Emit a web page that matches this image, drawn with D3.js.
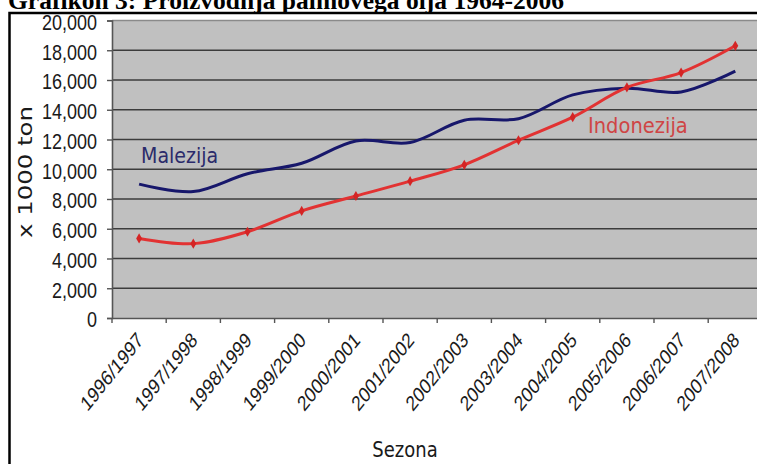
<!DOCTYPE html>
<html>
<head>
<meta charset="utf-8">
<script src="https://cdn.jsdelivr.net/npm/d3@7"></script>
<style>
  html, body { margin: 0; padding: 0; background: #ffffff; overflow: hidden; }
  svg { display: block; }
</style>
</head>
<body>
<svg id="chart" width="757" height="464"></svg>
<script>
// ---- data ----
const title = "Grafikon 3: Proizvodnja palmovega olja 1964-2006";
const seasons = ["1996/1997","1997/1998","1998/1999","1999/2000","2000/2001","2001/2002",
                 "2002/2003","2003/2004","2004/2005","2005/2006","2006/2007","2007/2008"];
const malezija   = [9000, 8500, 9700, 10400, 11900, 11800, 13300, 13400, 15000, 15450, 15200, 16600];
const indonezija = [5350, 5000, 5800, 7200, 8200, 9200, 10300, 11950, 13500, 15500, 16500, 18300];
const yTicks = [0, 2000, 4000, 6000, 8000, 10000, 12000, 14000, 16000, 18000, 20000];
const yTitle = "x 1000 ton";
const xTitle = "Sezona";
const seriesNames = ["Malezija", "Indonezija"];

// ---- layout ----
const svg = d3.select("#chart");
const sy = 1.22; // vertical stretch of the original picture
const pLeft = 112, pTop = 20.5, pBottom = 318, bandW = 54.2;
const x = d3.scaleBand().domain(seasons).range([pLeft, pLeft + bandW * seasons.length]).paddingInner(0).paddingOuter(0);
const y = d3.scaleLinear().domain([0, 20000]).range([pBottom, pTop]);
const cx = d => x(d) + x.bandwidth() / 2;

// title
svg.append("text")
  .attr("x", 8).attr("y", 9)
  .attr("font-family", "Liberation Serif, Times New Roman, serif")
  .attr("font-weight", "bold")
  .attr("font-size", 25)
  .attr("textLength", 556)
  .attr("lengthAdjust", "spacingAndGlyphs")
  .attr("fill", "#000")
  .text(title);

// frame
svg.append("path")
  .attr("d", `M9.5,470 V13 H770`)
  .attr("fill", "none").attr("stroke", "#000").attr("stroke-width", 2.5);

// plot background
svg.append("rect")
  .attr("x", pLeft).attr("y", pTop)
  .attr("width", x.range()[1] - pLeft).attr("height", pBottom - pTop)
  .attr("fill", "#c0c0c0");

// gridlines
svg.append("g").selectAll("line").data(yTicks.filter(v => v > 0)).join("line")
  .attr("x1", pLeft).attr("x2", x.range()[1])
  .attr("y1", d => y(d)).attr("y2", d => y(d))
  .attr("stroke", d => d === 20000 ? "#8a8a8a" : "#3c3c3c")
  .attr("stroke-width", 1.6);

// y axis
const yAxis = svg.append("g").attr("transform", `translate(${pLeft},0)`)
  .call(d3.axisLeft(y).tickValues(yTicks).tickSize(5).tickFormat(d3.format(",")));
yAxis.select(".domain").attr("stroke", "#555").attr("stroke-width", 1.6);
yAxis.selectAll(".tick line").attr("stroke", "#555").attr("stroke-width", 1.4);
yAxis.selectAll(".tick text").remove();
yAxis.selectAll(".tick").append("text")
  .attr("transform", `translate(-15,1) scale(1,${sy})`)
  .attr("dy", "0.36em")
  .attr("text-anchor", "end")
  .attr("font-family", "Liberation Sans, Arial, sans-serif")
  .attr("font-size", 18)
  .attr("fill", "#1a1a1a")
  .text(d => d3.format(",")(d));

// x axis
const xAxis = svg.append("g").attr("transform", `translate(0,${pBottom})`)
  .call(d3.axisBottom(x).tickSize(0).tickFormat(""));
xAxis.select(".domain").attr("stroke", "#555").attr("stroke-width", 1.6);
svg.append("g").selectAll("line").data(seasons).join("line")
  .attr("x1", d => x(d)).attr("x2", d => x(d))
  .attr("y1", pBottom).attr("y2", pBottom + 5)
  .attr("stroke", "#555").attr("stroke-width", 1.4);
svg.append("g").selectAll("text").data(seasons).join("text")
  .attr("transform", d => `translate(${cx(d) + 1},${pBottom + 18}) scale(1,1.25) rotate(-45)`)
  .attr("text-anchor", "end")
  .attr("dy", "0.35em")
  .attr("font-family", "Liberation Sans, Arial, sans-serif")
  .attr("font-size", 17)
  .attr("fill", "#1a1a1a")
  .text(d => d);

// axis titles
svg.append("text")
  .attr("transform", `translate(32,172) scale(1,${sy}) rotate(-90)`)
  .attr("text-anchor", "middle")
  .attr("font-family", "DejaVu Sans, sans-serif")
  .attr("font-size", 20)
  .attr("fill", "#1a1a1a")
  .text(yTitle);
svg.append("text")
  .attr("transform", `translate(405,457) scale(1,${sy})`)
  .attr("text-anchor", "middle")
  .attr("font-family", "DejaVu Sans, sans-serif")
  .attr("font-size", 18)
  .attr("fill", "#1a1a1a")
  .text(xTitle);

// lines
const line = d3.line().x((d, i) => cx(seasons[i])).y(d => y(d)).curve(d3.curveCatmullRom.alpha(0.5));
svg.append("path").datum(malezija)
  .attr("d", line).attr("fill", "none").attr("stroke", "#17176b").attr("stroke-width", 3);
svg.append("path").datum(indonezija)
  .attr("d", line).attr("fill", "none").attr("stroke", "#e23232").attr("stroke-width", 3);
svg.append("g").selectAll("path").data(indonezija).join("path")
  .attr("transform", (d, i) => `translate(${cx(seasons[i])},${y(d)})`)
  .attr("d", d3.symbol(d3.symbolDiamond, 30))
  .attr("fill", "#d42424");

// series labels
svg.append("text")
  .attr("transform", `translate(141,163) scale(1,${sy * 0.9})`)
  .attr("font-family", "DejaVu Sans, sans-serif")
  .attr("font-size", 19)
  .attr("fill", "#2b2b6b")
  .text(seriesNames[0]);
svg.append("text")
  .attr("transform", `translate(588,133) scale(1,${sy * 0.9})`)
  .attr("font-family", "DejaVu Sans, sans-serif")
  .attr("font-size", 19.5)
  .attr("fill", "#cf4545")
  .text(seriesNames[1]);
</script>
</body>
</html>
